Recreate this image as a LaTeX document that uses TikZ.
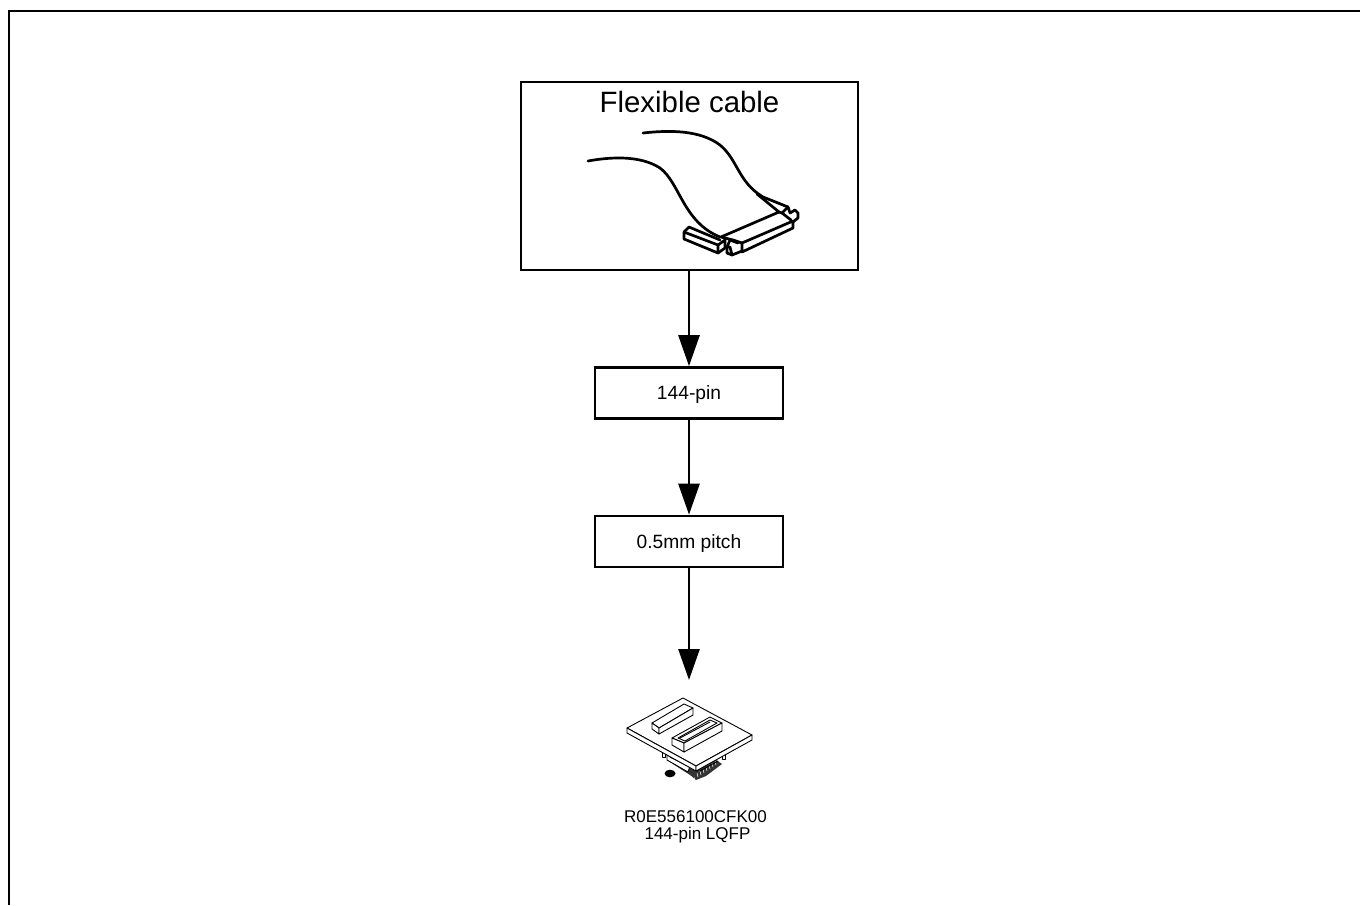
\documentclass[tikz,border=0pt]{standalone}
\usepackage{fontspec}
\setmainfont{Liberation Sans}
\usetikzlibrary{arrows.meta}
\tikzset{
  x=1pt,y=-1pt,
  boxnode/.style={draw=black,line width=2.7pt,fill=white,minimum width=188pt,minimum height=51pt,inner sep=0pt,text depth=0pt,font=\fontsize{19.2}{22}\selectfont},
  flow/.style={line width=2.7pt,-{Triangle[length=31pt,width=21pt]},shorten >=0pt},
  cab/.style={line width=2.7pt,line join=round,line cap=round},
  dev/.style={line width=.9pt,line join=round},
  captxt/.style={font=\fontsize{17}{17.5}\selectfont,align=center,inner sep=0pt},
}
\begin{document}
\begin{tikzpicture}
\useasboundingbox (0,0) rectangle (1360,905);
% page frame
\draw[line width=2.8pt] (9,905) -- (9,11) -- (1360,11);
% flexible-cable box
\node[draw=black,line width=2.7pt,minimum width=337pt,minimum height=188pt,inner sep=0pt] (cable) at (689.5,176) {};
\node[font=\fontsize{29.4}{32}\selectfont,inner sep=0pt,anchor=base] (cabletitle) at (689.5,112) {Flexible cable};
% cable drawing
\draw[cab] (643,133) .. controls (670,130) and (700,130) .. (720,145) .. controls (738,160) and (738,182) .. (763,197) -- (788,207);
\draw[cab] (757,194) -- (779,212) -- (721,237);
\draw[cab] (588,161) .. controls (610,157) and (640,155) .. (660,168) .. controls (680,183) and (683,222) .. (720,237);
% left end block
\draw[cab] (684,232) -- (689,227) -- (720,240);
\draw[cab] (684,232) -- (718,245) -- (718,253) -- (684,239) -- cycle;
\draw[cab] (718,245) -- (725,240) -- (725,248) -- (718,253);
\draw[cab] (721,237) -- (733,240) -- (742,243);
% centre ear
\draw[cab] (727,253) -- (727,247) -- (730,240) -- (738,243);
\draw[cab] (727,247) -- (730,247) -- (732,255) -- (727,253);
\draw[cab] (732,255) -- (742,251);
% long block
\draw[cab] (742,243) -- (742,252) -- (793,228) -- (793,221) -- (742,243);
% right ear
\draw[cab] (779,212) -- (782,213) -- (788,207) -- (790,213) -- (795,210) -- (798,213) -- (798,218) -- (793,222);
\draw[cab] (782,213) -- (791,220);
% arrows and boxes
\node[boxnode] (pins) at (689,393) {144-pin};
\node[boxnode] (pitch) at (689,541.5) {0.5mm pitch};
\coordinate (devtop) at (689,680);
\draw[flow] (cable.south -| pins.north) -- (pins.north);
\draw[flow] (pins.south) -- (pitch.north);
\draw[flow] (pitch.south) -- (devtop);
% board underside (socket)
\fill[black!80] (673,764) -- (690,775) -- (696,780) -- (706,776) -- (722,764) -- (712,757) -- (680,750) -- cycle;
\foreach \i in {0,...,7}{\draw[white,line width=.5pt] ({676+\i*2.6},{769+\i*1.2}) -- ({677+\i*2.6},{773+\i*1.2});}
\foreach \i in {0,...,6}{\draw[white,line width=.5pt] ({698+\i*3},{777-\i*2}) -- ({697+\i*3},{773-\i*2});}
\draw[dev,fill=white] (667,755) -- (690,766) -- (688,772) -- (667,760) -- cycle;
\draw[dev] (670,757) -- (688,766);
\draw[dev] (662,753) -- (662,757) -- (665,757) -- (665,754);
\draw[dev] (722,755) -- (722,759) -- (725,759) -- (725,754);
\draw[dev] (697,769) -- (727,753);
\draw[dev] (700,771) -- (718,761);
\fill[black] (670,773.5) ellipse (5.5pt and 3.8pt);
% board
\draw[dev,fill=white] (627,728) -- (683,698) -- (752,735) -- (696,766) -- cycle;
\draw[dev,fill=white] (627,728) -- (696,766) -- (696,771) -- (627,733) -- cycle;
\draw[dev,fill=white] (696,766) -- (752,735) -- (752,740) -- (696,771) -- cycle;
% plain header
\draw[dev,fill=white] (652,723) -- (684,704) -- (693,708) -- (659,728) -- cycle;
\draw[dev,fill=white] (652,723) -- (659,728) -- (659,734) -- (652,729) -- cycle;
\draw[dev,fill=white] (659,728) -- (693,708) -- (693,715) -- (659,734) -- cycle;
% slotted header
\draw[dev,fill=white] (672,738) -- (710,717) -- (722,723) -- (684,743) -- cycle;
\draw[dev,fill=white] (672,738) -- (684,743) -- (684,752) -- (672,745) -- cycle;
\draw[dev,fill=white] (684,743) -- (722,723) -- (722,731) -- (684,752) -- cycle;
\draw[dev] (678,738) -- (710,720) -- (717,723) -- (685,741) -- cycle;
\draw[dev] (680,738) -- (710,722);
% caption
\node[captxt,anchor=north] (devlabel) at (695.5,810) {R0E556100CFK00\\ \hspace*{4pt}144-pin LQFP};
\end{tikzpicture}
\end{document}
